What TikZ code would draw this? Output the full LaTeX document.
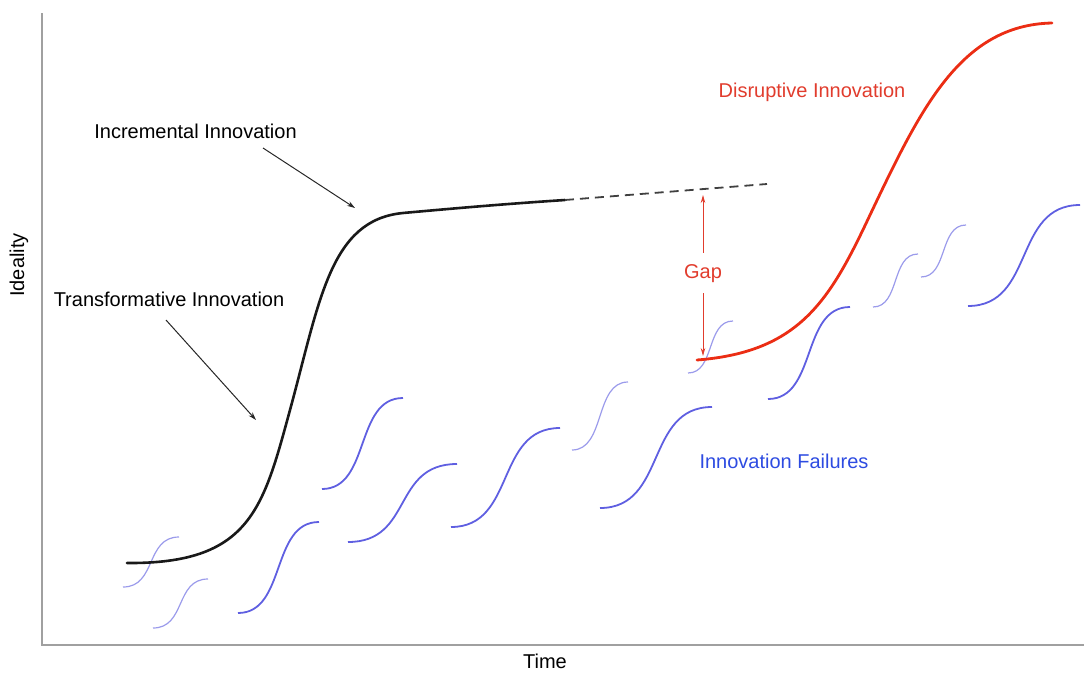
\documentclass[tikz,border=0pt]{standalone}
\usepackage{fontspec}
\setmainfont{Liberation Sans}
\usetikzlibrary{arrows.meta}

\definecolor{axisgray}{RGB}{160,160,160}
\definecolor{gapred}{RGB}{225,60,45}
\definecolor{disruptred}{RGB}{235,45,20}
\definecolor{failblue}{RGB}{95,95,225}
\definecolor{faintblue}{RGB}{155,155,235}
\definecolor{failtext}{RGB}{45,75,225}

\begin{document}
\begin{tikzpicture}[x=1pt,y=-1pt,
    curvelabel/.style={font=\fontsize{20}{24}\selectfont, inner sep=0pt, anchor=base},
    axisline/.style={draw=axisgray, line width=2pt},
    pointer/.style={-{Stealth[length=8pt,width=5pt]}, line width=1pt, draw=black!85},
    gaparrow/.style={-{Stealth[length=8pt,width=4.5pt]}, line width=0.9pt, draw=gapred},
    failure/.style={draw=failblue, line width=1.8pt},
    faintfailure/.style={draw=faintblue, line width=1.2pt}]
      \useasboundingbox (0,0) rectangle (1084,672);
      % axes
      \draw[axisline] (42,13) -- (42,645) -- (1084,645);
      \node[curvelabel, rotate=90] (ideality) at (24,265) {Ideality};
      \node[curvelabel] (time) at (545,668) {Time};
      % innovation failures
      \foreach \xa/\ya/\xb/\yb in {238/613/319/522, 348/542/457/464, 322/489/403/398,
          451/527/560/428, 600/508/712/407, 768/399/850/307, 968/306/1080/205}
        \draw[failure] (\xa,\ya) .. controls ({\xa+0.6*(\xb-\xa)},\ya) and ({\xb-0.6*(\xb-\xa)},\yb) .. (\xb,\yb);
      \foreach \xa/\ya/\xb/\yb in {123/587/179/537, 153/628/208/579, 572/450/628/382,
          688/373/733/321, 873/307/918/254, 921/277/966/225}
        \draw[faintfailure] (\xa,\ya) .. controls ({\xa+0.6*(\xb-\xa)},\ya) and ({\xb-0.6*(\xb-\xa)},\yb) .. (\xb,\yb);
      \node[curvelabel, text=failtext] (failures) at (784,468) {Innovation Failures};
      % transformative / incremental innovation
      \coordinate (plateau) at (565,200);
      \coordinate (trend) at (767,184);
      \draw[line width=2.6pt, black!90, line cap=round] (127,563)
          .. controls (250,564) and (263,509) .. (290,410)
          .. controls (320,300) and (330,220) .. (403,213)
          .. controls (480,206) and (520,203) .. (plateau);
      \draw[dashed, dash pattern=on 9pt off 6pt, line width=1.8pt, black!75] (plateau) -- (trend);
      \node[curvelabel] (incremental) at (195.5,138) {Incremental Innovation};
      \coordinate (incr tail) at (263,148);
      \coordinate (incr head) at (355,208);
      \draw[pointer] (incr tail) -- (incr head);
      \node[curvelabel] (transformative) at (169,306) {Transformative Innovation};
      \coordinate (trans tail) at (166,320);
      \coordinate (trans head) at (256,420);
      \draw[pointer] (trans tail) -- (trans head);
      % disruptive innovation
      \draw[line width=2.8pt, disruptred, line cap=round] (697,360)
          .. controls (800,352) and (830,300) .. (870,215)
          .. controls (920,110) and (960,25) .. (1052,23);
      \node[curvelabel, text=gapred] (disruptive) at (812,97) {Disruptive Innovation};
      % gap
      \node[curvelabel, text=gapred, inner ysep=11pt] (gap) at (703,278) {Gap};
      \coordinate (gap top) at (703,195);
      \coordinate (gap bottom) at (703,356);
      \draw[gaparrow] (gap.north) -- (gap top);
      \draw[gaparrow] (gap.south) -- (gap bottom);
    \end{tikzpicture}
\end{document}
